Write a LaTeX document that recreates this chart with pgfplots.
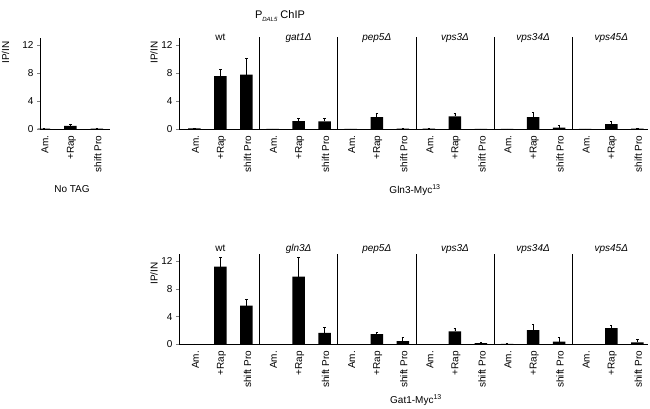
\documentclass[border=0pt]{standalone}
\usepackage{fontspec}
\setmainfont{Liberation Sans}
\usepackage{pgfplots}
\pgfplotsset{compat=1.18}

\newcommand{\catlabels}{Am.,+Rap,shift Pro,Am.,+Rap,shift Pro,Am.,+Rap,shift Pro,Am.,+Rap,shift Pro,Am.,+Rap,shift Pro,Am.,+Rap,shift Pro}

\pgfplotsset{
  chip/.style={
    scale only axis, anchor=south west, clip=false,
    font=\fontsize{10}{12}\selectfont,
    /pgf/number format/assume math mode=true,
    ymin=0, ymax=13, ytick={0,4,8,12},
    axis x line*=bottom, axis y line*=left,
    axis line style={-, line width=0.6pt},
    tick align=outside, major tick length=3pt,
    ytick style={line width=0.6pt},
    xtick style={draw=none},
    xticklabel style={rotate=90, anchor=east, yshift=-1pt},
  },
  chipbar/.style={
    ybar, bar width=12.5pt, fill=black, draw=none,
    error bars/.cd, y dir=plus, y explicit,
    error bar style={line width=0.8pt, black},
    error mark options={rotate=90, mark size=1.2pt, line width=0.8pt, black},
  },
}

\begin{document}
\begin{tikzpicture}
\path[use as bounding box] (0,0) rectangle (650pt,409pt);

% No TAG
\begin{axis}[chip, at={(40pt,280pt)}, width=70pt, height=91pt,
    xmin=-0.15, xmax=2.5, xtick={0,1,2}, xticklabels={Am.,+Rap,shift Pro}]
\addplot[chipbar] coordinates {(0,0.05) +- (0,0.05) (1,0.45) +- (0,0.27) (2,0.05) +- (0,0.05)};
\end{axis}

% Gln3-Myc13
\begin{axis}[chip, at={(179pt,280pt)}, width=469pt, height=91pt,
    xmin=-0.59, xmax=17.41, xtick={0,...,17}, xticklabels/.expand once=\catlabels]
\addplot[chipbar] coordinates {
  (0,0.08) +- (0,0.05) (1,7.57) +- (0,0.91) (2,7.76) +- (0,2.30)
  (3,0.00) +- (0,0.00) (4,1.14) +- (0,0.34) (5,1.10) +- (0,0.47)
  (6,0.00) +- (0,0.00) (7,1.71) +- (0,0.53) (8,0.04) +- (0,0.03)
  (9,0.05) +- (0,0.03) (10,1.81) +- (0,0.38) (11,0.00) +- (0,0.00)
  (12,0.00) +- (0,0.00) (13,1.71) +- (0,0.67) (14,0.19) +- (0,0.33)
  (15,0.00) +- (0,0.00) (16,0.71) +- (0,0.34) (17,0.04) +- (0,0.03)
};
\pgfplotsinvokeforeach{2.5,5.5,8.5,11.5,14.5}{\draw[line width=0.6pt] (axis cs:#1,0) -- (axis cs:#1,13.2);}
\node[anchor=base] at (axis cs:1,12.7) {wt};
\node[anchor=base] at (axis cs:4,12.7) {\itshape gat1Δ};
\node[anchor=base] at (axis cs:7,12.7) {\itshape pep5Δ};
\node[anchor=base] at (axis cs:10,12.7) {\itshape vps3Δ};
\node[anchor=base] at (axis cs:13,12.7) {\itshape vps34Δ};
\node[anchor=base] at (axis cs:16,12.7) {\itshape vps45Δ};
\end{axis}

% Gat1-Myc13
\begin{axis}[chip, at={(179pt,64.5pt)}, width=469pt, height=90.5pt,
    xmin=-0.59, xmax=17.41, xtick={0,...,17}, xticklabels/.expand once=\catlabels]
\addplot[chipbar] coordinates {
  (0,0.05) +- (0,0.03) (1,11.20) +- (0,1.24) (2,5.60) +- (0,0.90)
  (3,0.02) +- (0,0.00) (4,9.76) +- (0,2.74) (5,1.67) +- (0,0.82)
  (6,0.02) +- (0,0.00) (7,1.48) +- (0,0.24) (8,0.48) +- (0,0.52)
  (9,0.00) +- (0,0.00) (10,1.87) +- (0,0.47) (11,0.19) +- (0,0.14)
  (12,0.10) +- (0,0.10) (13,2.06) +- (0,0.76) (14,0.43) +- (0,0.53)
  (15,0.00) +- (0,0.00) (16,2.34) +- (0,0.39) (17,0.29) +- (0,0.38)
};
\pgfplotsinvokeforeach{2.5,5.5,8.5,11.5,14.5}{\draw[line width=0.6pt] (axis cs:#1,0) -- (axis cs:#1,13);}
\node[anchor=base] at (axis cs:1,13.4) {wt};
\node[anchor=base] at (axis cs:4,13.4) {\itshape gln3Δ};
\node[anchor=base] at (axis cs:7,13.4) {\itshape pep5Δ};
\node[anchor=base] at (axis cs:10,13.4) {\itshape vps3Δ};
\node[anchor=base] at (axis cs:13,13.4) {\itshape vps34Δ};
\node[anchor=base] at (axis cs:16,13.4) {\itshape vps45Δ};
\end{axis}

% labels
\begin{scope}[every node/.style={font=\fontsize{10}{12}\selectfont, inner sep=0pt}]
\node[rotate=90] at (5.5pt,356.5pt) {IP/IN};
\node[rotate=90] at (154pt,356.5pt) {IP/IN};
\node[rotate=90] at (154pt,135.5pt) {IP/IN};
\node at (72pt,220pt) {No TAG};
\node at (415pt,219pt) {Gln3-Myc\textsuperscript{13}};
\node at (416pt,9pt) {Gat1-Myc\textsuperscript{13}};
\node[font=\fontsize{11}{13}\selectfont] at (280pt,393pt) {P\raisebox{-2.5pt}{\fontsize{6}{7}\selectfont\itshape DAL5} ChIP};
\end{scope}
\end{tikzpicture}
\end{document}
